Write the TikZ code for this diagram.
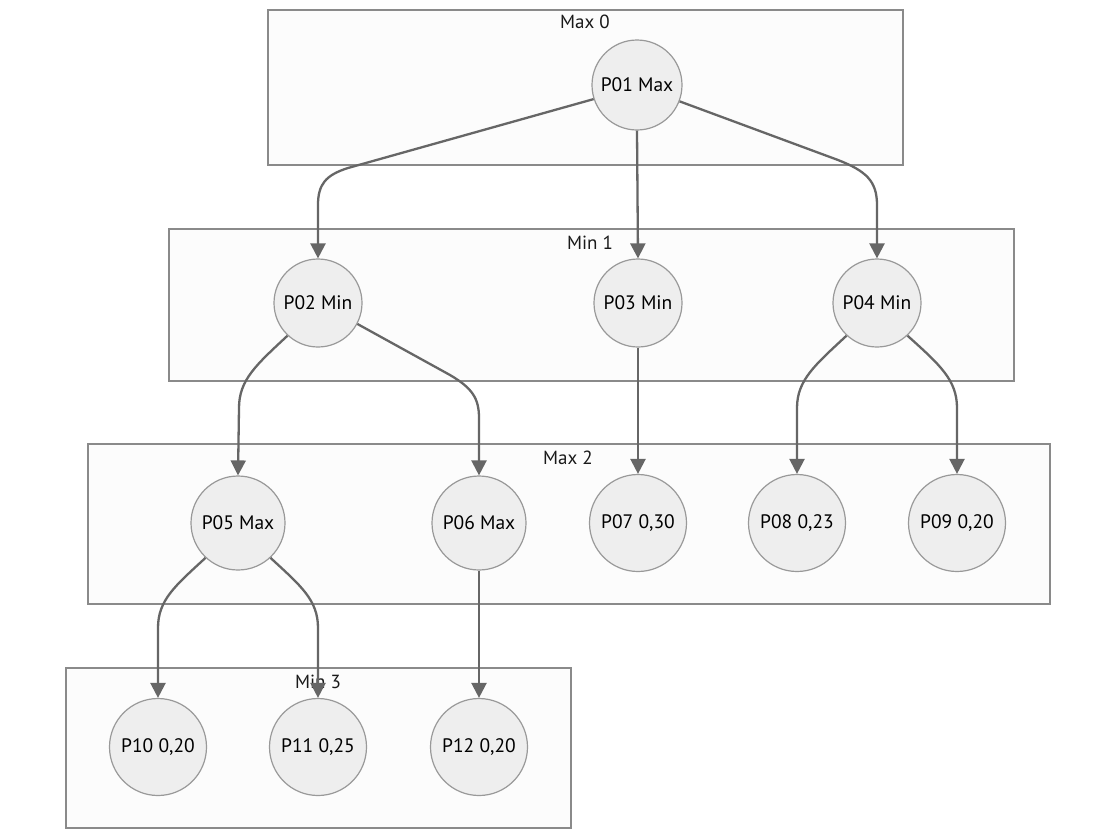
\documentclass[tikz,border=0pt]{standalone}
\usepackage{fontspec}
\setmainfont{PT Sans}
\usetikzlibrary{arrows.meta}
\definecolor{nodefill}{HTML}{EEEEEE}
\definecolor{nodeline}{HTML}{999999}
\definecolor{clfill}{HTML}{FCFCFC}
\definecolor{clline}{HTML}{8A8A8A}
\definecolor{edgec}{HTML}{666666}
\begin{document}
\begin{tikzpicture}[x=1pt,y=-1pt,
  cluster/.style={draw=clline,fill=clfill,line width=1.3pt},
  clabel/.style={font=\fontsize{19}{22}\selectfont,text=black!90,inner sep=0pt},
  pnode/.style={circle,draw=nodeline,fill=nodefill,line width=1.2pt,inner sep=0pt,font=\fontsize{19.5}{22}\selectfont,text=black},
  edge/.style={draw=edgec,line width=2.3pt,-{Triangle[length=15pt,width=15pt]}}]
\useasboundingbox (0,0) rectangle (1116,839);
\fill[white] (0,0) rectangle (1116,839);
% clusters
\draw[cluster] (268,10) rectangle (903,165);
\node[clabel] (L0) at (585,22) {Max 0};
\draw[cluster] (169,229) rectangle (1014,381);
\node[clabel] (L1) at (590,243) {Min 1};
\draw[cluster] (88,444) rectangle (1050,604);
\node[clabel] (L2) at (568,458) {Max 2};
\draw[cluster] (66,668) rectangle (571,828);
\node[clabel] (L3) at (318,682) {Min 3};
% nodes
\node[pnode,minimum size=90pt] (P01) at (637,85) {P01 Max};
\node[pnode,minimum size=88pt] (P02) at (318,303) {P02 Min};
\node[pnode,minimum size=88pt] (P03) at (638,303) {P03 Min};
\node[pnode,minimum size=88pt] (P04) at (877,303) {P04 Min};
\node[pnode,minimum size=94pt] (P05) at (238,523) {P05 Max};
\node[pnode,minimum size=94pt] (P06) at (479,523) {P06 Max};
\node[pnode,minimum size=97pt] (P07) at (638,523) {P07 0,30};
\node[pnode,minimum size=97pt] (P08) at (797,523) {P08 0,23};
\node[pnode,minimum size=97pt] (P09) at (957,523) {P09 0,20};
\node[pnode,minimum size=97pt] (P10) at (158,747) {P10 0,20};
\node[pnode,minimum size=97pt] (P11) at (318,747) {P11 0,25};
\node[pnode,minimum size=97pt] (P12) at (479,747) {P12 0,20};
% edges
\draw[edge] (P01.198) -- (348,168) .. controls (326,175) and (318,184) .. (318,205) -- (P02.north);
\draw[edge] (P01.south) -- (P03.north);
\draw[edge] (P01.339) -- (838,160) .. controls (866,171) and (877,181) .. (877,205) -- (P04.north);
\draw[edge] (P02.227) .. controls (256,365) and (239,380) .. (239,408) -- (P05.north);
\draw[edge] (P02.332) -- (450,375) .. controls (472,388) and (479,398) .. (479,418) -- (P06.north);
\draw[edge] (P03.south) -- (P07.north);
\draw[edge] (P04.227) .. controls (815,365) and (797,380) .. (797,408) -- (P08.north);
\draw[edge] (P04.313) .. controls (940,365) and (957,380) .. (957,408) -- (P09.north);
\draw[edge] (P05.227) .. controls (175,586) and (158,600) .. (158,628) -- (P10.north);
\draw[edge] (P05.313) .. controls (301,586) and (318,600) .. (318,628) -- (P11.north);
\draw[edge] (P06.south) -- (P12.north);
\end{tikzpicture}
\end{document}
